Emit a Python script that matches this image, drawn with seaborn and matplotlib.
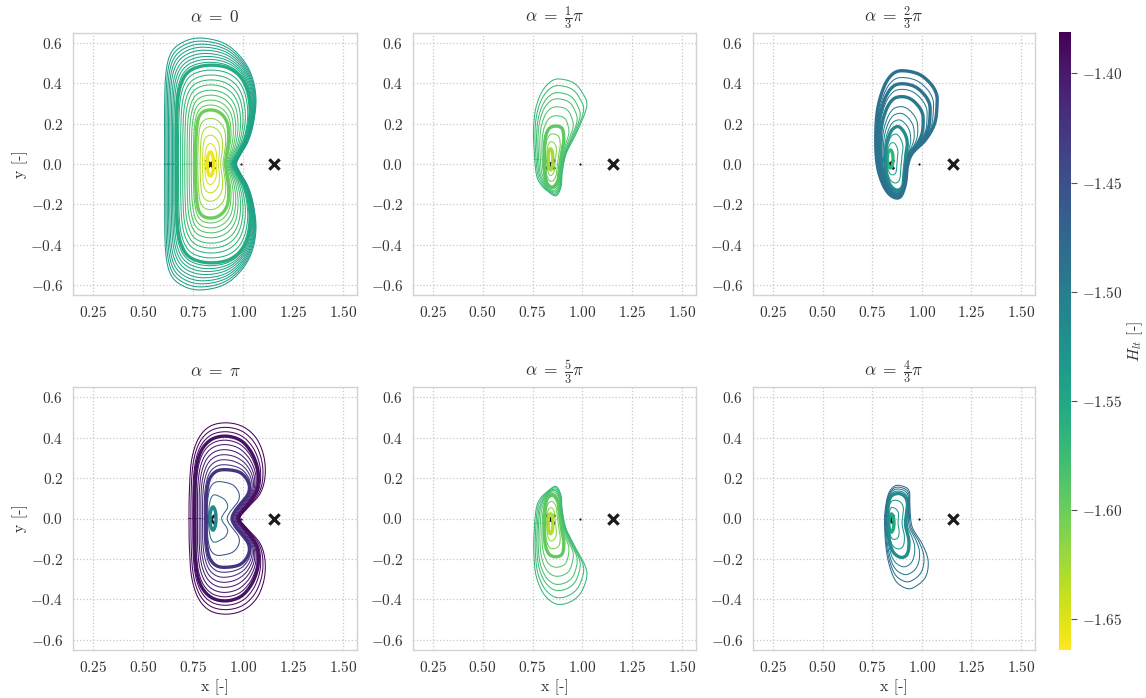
import numpy as np
import pandas as pd
import matplotlib
matplotlib.use("Agg")
import matplotlib.pyplot as plt
import seaborn as sns
from matplotlib.colors import Normalize
from matplotlib.cm import ScalarMappable

# ------------------------------------------------------------------ data
H_MIN, H_MAX = -1.664, -1.381
L1_X, MOON_X, L2_X = 0.8369, 0.9878, 1.1557
cbar_ticks = [-1.40, -1.45, -1.50, -1.55, -1.60, -1.65]
x_ticks = [0.25, 0.50, 0.75, 1.00, 1.25, 1.50]
y_ticks = [-0.6, -0.4, -0.2, 0.0, 0.2, 0.4, 0.6]
titles = [r"$\alpha\;=\;0$", r"$\alpha\;=\;\frac{1}{3}\pi$", r"$\alpha\;=\;\frac{2}{3}\pi$",
          r"$\alpha\;=\;\pi$", r"$\alpha\;=\;\frac{5}{3}\pi$", r"$\alpha\;=\;\frac{4}{3}\pi$"]

# ---- panel 1 (alpha = 0), symmetric: upper halves
p1_centre = (0.837, 0.0)
p1_k0 = [(0.853, 0.0), (0.851, 0.03), (0.845, 0.052), (0.837, 0.06), (0.829, 0.052), (0.823, 0.03), (0.821, 0.0)]
p1_k1 = [(0.912, 0.0), (0.918, 0.05), (0.928, 0.12), (0.925, 0.19), (0.905, 0.235), (0.87, 0.262),
         (0.83, 0.268), (0.795, 0.255), (0.775, 0.22), (0.766, 0.15), (0.763, 0.07), (0.762, 0.0)]
p1_k2 = [(0.95, 0.0), (0.975, 0.05), (1.01, 0.12), (1.03, 0.2), (1.035, 0.285), (1.02, 0.37), (0.985, 0.435),
         (0.93, 0.475), (0.86, 0.49), (0.79, 0.485), (0.73, 0.46), (0.695, 0.41), (0.675, 0.33),
         (0.668, 0.2), (0.667, 0.1), (0.667, 0.0)]
p1_k3 = [(0.968, 0.0), (0.99, 0.05), (1.02, 0.1), (1.045, 0.17), (1.06, 0.25), (1.065, 0.32), (1.055, 0.4),
         (1.03, 0.47), (0.99, 0.53), (0.93, 0.585), (0.86, 0.615), (0.77, 0.625), (0.7, 0.605),
         (0.648, 0.565), (0.622, 0.5), (0.611, 0.4), (0.608, 0.25), (0.608, 0.1), (0.608, 0.0)]
p1_pos = [0, 0.2, 0.4, 0.6, 0.8, 1, 1.11, 1.22, 1.33, 1.44, 1.56, 1.67, 1.78, 1.89, 2,
          2.11, 2.22, 2.33, 2.44, 2.56, 2.67, 2.78, 2.89, 3]
p1_H = [-1.657, -1.648, -1.638, -1.627, -1.615, -1.600, -1.595, -1.590, -1.585, -1.580, -1.575, -1.570,
        -1.565, -1.560, -1.555, -1.553, -1.551, -1.549, -1.547, -1.545, -1.543, -1.541, -1.539, -1.537]
p1_thick = [1, 0, 0, 0, 0, 1, 0, 0, 0, 0, 0, 0, 0, 0, 1, 0, 0, 0, 0, 0, 0, 0, 0, 0]

# ---- panel 2 (alpha = pi/3)
p2_centre = (0.84, 0.023)
p2_k0 = [(0.852, 0.023), (0.849, 0.06), (0.84, 0.076), (0.831, 0.06), (0.828, 0.023), (0.831, -0.015),
         (0.84, -0.03), (0.849, -0.015)]
p2_k1 = [(0.907, 0.118), (0.898, 0.176), (0.86, 0.188), (0.827, 0.168), (0.81, 0.102), (0.81, -0.015),
         (0.822, -0.094), (0.852, -0.114), (0.877, -0.081), (0.885, -0.015), (0.898, 0.068)]
p2_k2 = [(1.022, 0.284), (1.002, 0.35), (0.96, 0.40), (0.902, 0.42), (0.852, 0.416), (0.802, 0.367),
         (0.768, 0.284), (0.755, 0.185), (0.757, 0.085), (0.768, -0.047), (0.79, -0.1), (0.827, -0.136),
         (0.868, -0.158), (0.893, -0.113), (0.898, -0.047), (0.918, 0.05), (0.968, 0.15)]
p2_pos = [0, 0.33, 0.67, 1, 1.22, 1.41, 1.58, 1.71, 1.86, 2]
p2_H = [-1.625, -1.612, -1.603, -1.593, -1.588, -1.585, -1.582, -1.578, -1.574, -1.570]
p2_thick = [1, 0, 0, 1, 0, 0, 0, 0, 0, 0]

# ---- panel 3 (alpha = 2pi/3)
p3_centre = (0.841, 0.025)
p3_k0 = [(0.855, 0.025), (0.852, 0.055), (0.841, 0.07), (0.83, 0.055), (0.827, 0.025), (0.83, -0.005),
         (0.841, -0.02), (0.852, -0.005)]
p3_k1 = [(0.918, 0.036), (0.927, 0.1), (0.915, 0.15), (0.885, 0.185), (0.855, 0.175), (0.835, 0.14),
         (0.82, 0.08), (0.818, 0.0), (0.825, -0.06), (0.845, -0.11), (0.877, -0.13), (0.903, -0.11),
         (0.91, -0.05)]
p3_k2 = [(1.077, 0.30), (1.065, 0.202), (1.018, 0.119), (0.952, 0.053), (0.927, -0.013), (0.918, -0.096),
         (0.893, -0.162), (0.852, -0.162), (0.81, -0.113), (0.777, -0.013), (0.768, 0.119), (0.777, 0.268),
         (0.81, 0.384), (0.852, 0.446), (0.902, 0.463), (0.985, 0.446), (1.043, 0.40), (1.073, 0.35)]
p3_pos = [0, 0.35, 0.7, 1, 1.12, 1.24, 1.36, 1.54, 1.67, 1.77, 1.88, 2]
p3_H = [-1.565, -1.545, -1.532, -1.520, -1.512, -1.506, -1.500, -1.495, -1.493, -1.490, -1.489, -1.487]
p3_thick = [1, 0, 0, 1, 0, 0, 0, 1, 0, 1, 0, 1]

# ---- panel 4 (alpha = pi), symmetric: upper halves
p4_centre = (0.85, 0.0)
p4_k0 = [(0.865, 0.0), (0.862, 0.035), (0.85, 0.058), (0.838, 0.035), (0.835, 0.0)]
p4_k1 = [(0.945, 0.0), (0.962, 0.04), (0.995, 0.08), (1.025, 0.12), (1.032, 0.16), (1.015, 0.2),
         (0.98, 0.23), (0.92, 0.241), (0.87, 0.235), (0.835, 0.2), (0.82, 0.14), (0.815, 0.07), (0.815, 0.0)]
p4_k2 = [(0.975, 0.0), (1.0, 0.04), (1.04, 0.09), (1.07, 0.14), (1.077, 0.2), (1.07, 0.26), (1.04, 0.33),
         (0.99, 0.385), (0.92, 0.407), (0.85, 0.395), (0.8, 0.35), (0.772, 0.28), (0.76, 0.18),
         (0.758, 0.08), (0.758, 0.0)]
p4_k3 = [(0.985, 0.0), (1.027, 0.056), (1.085, 0.122), (1.11, 0.205), (1.105, 0.304), (1.068, 0.395),
         (1.002, 0.453), (0.918, 0.473), (0.835, 0.456), (0.777, 0.395), (0.743, 0.288), (0.732, 0.139),
         (0.73, 0.0)]
p4_pos = [0, 0.35, 0.7, 1, 1.15, 1.3, 1.45, 1.6, 1.75, 1.88, 2, 2.33, 2.66, 3]
p4_H = [-1.512, -1.480, -1.452, -1.425, -1.420, -1.415, -1.410, -1.405, -1.400, -1.397, -1.394,
        -1.390, -1.387, -1.384]
p4_thick = [1, 0, 0, 1, 0, 0, 0, 0, 0, 0, 1, 0, 0, 0]

# ---- panel 5 (alpha = 5pi/3)
p5_centre = (0.84, -0.023)
p5_k0 = [(0.852, -0.023), (0.849, -0.06), (0.84, -0.076), (0.831, -0.06), (0.828, -0.023), (0.831, 0.015),
         (0.84, 0.023), (0.849, 0.015)]
p5_k1 = [(0.907, -0.12), (0.898, -0.176), (0.86, -0.189), (0.827, -0.168), (0.81, -0.102), (0.81, 0.015),
         (0.822, 0.094), (0.852, 0.114), (0.877, 0.081), (0.885, 0.015), (0.898, -0.068)]
p5_k2 = [(1.022, -0.258), (1.002, -0.35), (0.96, -0.40), (0.902, -0.424), (0.852, -0.416), (0.802, -0.367),
         (0.768, -0.284), (0.757, -0.185), (0.757, -0.085), (0.768, 0.047), (0.79, 0.1), (0.827, 0.136),
         (0.868, 0.159), (0.893, 0.113), (0.898, 0.047), (0.918, -0.05), (0.968, -0.15)]
p5_pos = [0, 0.33, 0.67, 1, 1.22, 1.41, 1.58, 1.71, 1.86, 2]
p5_H = [-1.630, -1.615, -1.605, -1.595, -1.590, -1.586, -1.582, -1.578, -1.574, -1.570]
p5_thick = [1, 0, 0, 1, 0, 0, 0, 0, 0, 0]

# ---- panel 6 (alpha = 4pi/3)
p6_centre = (0.847, -0.022)
p6_k0 = [(0.86, -0.022), (0.857, 0.005), (0.847, 0.023), (0.837, 0.005), (0.834, -0.022), (0.837, -0.05),
         (0.847, -0.068), (0.857, -0.05)]
p6_k1 = [(0.843, 0.106), (0.893, 0.122), (0.927, 0.081), (0.918, -0.027), (0.935, -0.109), (0.927, -0.175),
         (0.893, -0.192), (0.852, -0.159), (0.832, -0.076), (0.827, 0.023)]
p6_k2 = [(0.885, 0.164), (0.935, 0.139), (0.94, 0.056), (0.952, -0.043), (1.002, -0.126), (1.032, -0.209),
         (1.018, -0.291), (0.96, -0.341), (0.918, -0.344), (0.868, -0.308), (0.835, -0.225), (0.818, -0.126),
         (0.813, 0.006), (0.827, 0.106), (0.852, 0.152)]
p6_pos = [0, 0.35, 0.7, 1, 1.3, 1.55, 1.78, 2]
p6_H = [-1.551, -1.536, -1.527, -1.520, -1.505, -1.495, -1.488, -1.482]
p6_thick = [1, 0, 0, 1, 0, 0, 0, 0]


def mirror(upper):
    return list(upper) + [(x, -y) for (x, y) in upper if y > 0]


panels = [
    (p1_centre, [mirror(p1_k0), mirror(p1_k1), mirror(p1_k2), mirror(p1_k3)], p1_pos, p1_H, p1_thick),
    (p2_centre, [p2_k0, p2_k1, p2_k2], p2_pos, p2_H, p2_thick),
    (p3_centre, [p3_k0, p3_k1, p3_k2], p3_pos, p3_H, p3_thick),
    (p4_centre, [mirror(p4_k0), mirror(p4_k1), mirror(p4_k2), mirror(p4_k3)], p4_pos, p4_H, p4_thick),
    (p5_centre, [p5_k0, p5_k1, p5_k2], p5_pos, p5_H, p5_thick),
    (p6_centre, [p6_k0, p6_k1, p6_k2], p6_pos, p6_H, p6_thick),
]

# ------------------------------------------------------------------ geometry helpers
NTH = 1080
THETA = np.linspace(-np.pi, np.pi, NTH, endpoint=False) + np.pi / NTH


def closed_spline(P, n=40):
    """Closed Catmull-Rom curve through the control points (in angular order)."""
    N = len(P)
    t = np.linspace(0, 1, n, endpoint=False)[:, None]
    out = []
    for i in range(N):
        p0, p1, p2, p3 = P[i - 1], P[i], P[(i + 1) % N], P[(i + 2) % N]
        out.append(0.5 * (2 * p1 + (-p0 + p2) * t + (2 * p0 - 5 * p1 + 4 * p2 - p3) * t ** 2
                          + (-p0 + 3 * p1 - 3 * p2 + p3) * t ** 3))
    return np.vstack(out)


def radial(pts, centre):
    p = np.asarray(pts, float)
    c = np.asarray(centre, float)
    th0 = np.arctan2(p[:, 1] - c[1], p[:, 0] - c[0])
    p = p[np.argsort(th0)]
    d = closed_spline(p) - c
    th, r = np.arctan2(d[:, 1], d[:, 0]), np.hypot(d[:, 0], d[:, 1])
    o = np.argsort(th)
    return np.interp(THETA, th[o], r[o], period=2 * np.pi)


def smooth(r, sigma=3):
    k = np.arange(-3 * sigma, 3 * sigma + 1)
    w = np.exp(-0.5 * (k / sigma) ** 2)
    w /= w.sum()
    return sum(wi * np.roll(r, ki) for wi, ki in zip(w, k))


def orbit_frame(centre, keys, pos, H, thick, tag):
    key_r = [radial(k, centre) for k in keys]
    rows = []
    for j, (p, h, tk) in enumerate(zip(pos, H, thick)):
        i = min(int(np.floor(p)), len(key_r) - 2)
        t = p - i
        r = smooth((1 - t) * key_r[i] + t * key_r[i + 1])
        x = centre[0] + r * np.cos(THETA)
        y = centre[1] + r * np.sin(THETA)
        x = np.append(x, x[0])
        y = np.append(y, y[0])
        rows.append(pd.DataFrame({"x": x, "y": y, "H": h, "orbit": f"{tag}-{j:02d}",
                                  "w": "thick" if tk else "thin"}))
    return pd.concat(rows, ignore_index=True)


# ------------------------------------------------------------------ style
sns.set_theme(style="whitegrid")
plt.rcParams.update({
    "font.family": ["serif"],
    "font.serif": ["cmr10", "DejaVu Serif"],
    "mathtext.fontset": "cm",
    "axes.formatter.use_mathtext": True,
    "axes.unicode_minus": True,
    "grid.linestyle": ":",
    "grid.color": "#c8c8c8",
    "grid.linewidth": 0.9,
    "axes.edgecolor": "#d2d2d2",
    "axes.linewidth": 1.0,
    "axes.axisbelow": True,
    "text.color": "#333333",
    "xtick.color": "#333333",
    "ytick.color": "#333333",
    "axes.labelcolor": "#333333",
})

W, Hpx = 1146, 698
fig = plt.figure(figsize=(W / 100, Hpx / 100), dpi=100)


def rect(l, t, r, b):
    return [l / W, 1 - b / Hpx, (r - l) / W, (b - t) / Hpx]


boxes = [(73, 33, 357, 295), (413, 33, 696, 295), (753, 33, 1035, 295),
         (73, 387, 357, 650), (413, 387, 696, 650), (753, 387, 1035, 650)]

norm = Normalize(vmin=H_MIN, vmax=H_MAX)
cmap = "viridis_r"

for idx, (box, (centre, keys, pos, Hs, thick)) in enumerate(zip(boxes, panels)):
    ax = fig.add_axes(rect(*box))
    df = orbit_frame(centre, keys, pos, Hs, thick, idx)
    ax.scatter([L1_X], [0.0], marker="x", s=45, c="k", linewidths=2.0, zorder=1.5)
    sns.lineplot(data=df, x="x", y="y", hue="H", hue_norm=norm, palette=cmap,
                 units="orbit", estimator=None, sort=False, size="w",
                 sizes={"thick": 2.4, "thin": 0.75}, legend=False, ax=ax, zorder=2)
    ax.scatter([MOON_X], [0.0], marker="o", s=2.5, c="k", linewidths=0, zorder=5)
    ax.scatter([L2_X], [0.0], marker="x", s=55, c="k", linewidths=2.3, zorder=5)
    ax.set_xlim(0.15, 1.57)
    ax.set_ylim(-0.65, 0.65)
    ax.set_xticks(x_ticks)
    ax.set_yticks(y_ticks)
    ax.tick_params(labelsize=11, pad=7, length=0)
    ax.set_title(titles[idx], fontsize=12.5, pad=8)
    ax.set_xlabel("x [-]" if idx >= 3 else "", fontsize=11.5, labelpad=3)
    ax.set_ylabel("y [-]" if idx % 3 == 0 else "", fontsize=11.5, labelpad=2)

cax = fig.add_axes(rect(1059, 32, 1071, 650))
cb = fig.colorbar(ScalarMappable(norm=norm, cmap=cmap), cax=cax)
cb.outline.set_visible(False)
cb.set_ticks(cbar_ticks)
cax.tick_params(labelsize=11, length=4, width=0.8, color="#555555", pad=4)
cb.set_label(r"$H_{lt}$ [-]", fontsize=11.5, labelpad=2)

fig.savefig("out.png", dpi=100)
